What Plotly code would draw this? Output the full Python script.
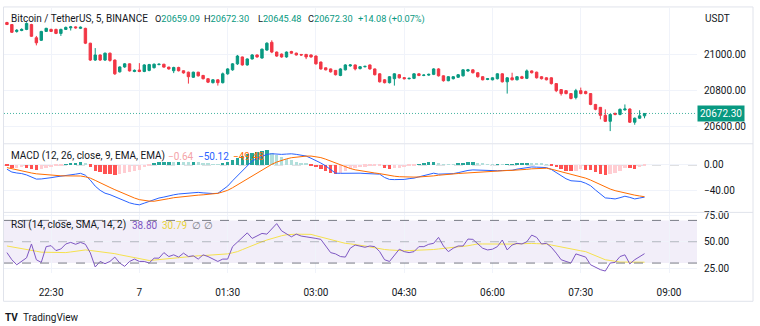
import plotly.graph_objects as go
import pandas as pd

# ---------------- data ----------------
start_time = "2022-07-06 21:45"
bar_minutes = 5

open_ = [21174, 21163, 21125, 21130, 21136, 21163, 21090, 21076, 21125, 21136,
         21136, 21114, 21136, 21145, 21150, 21142, 21142, 21060, 20967, 20995,
         20967, 21005, 20967, 20902, 20929, 20946, 20904, 20912, 20904, 20910,
         20925, 20942, 20944, 20928, 20908, 20926, 20908, 20900, 20872, 20900,
         20882, 20864, 20842, 20858, 20842, 20891, 20913, 20946, 20984, 20940,
         20973, 20995, 20978, 21022, 21065, 21011, 21000, 20984, 21014, 21005,
         20998, 20998, 20995, 20989, 20956, 20924, 20918, 20910, 20882, 20913,
         20935, 20940, 20920, 20930, 20940, 20918, 20891, 20858, 20842, 20864,
         20886, 20870, 20864, 20866, 20891, 20882, 20884, 20888, 20918, 20880,
         20853, 20864, 20872, 20880, 20907, 20913, 20897, 20875, 20860, 20858,
         20864, 20891, 20847, 20869, 20858, 20875, 20866, 20907, 20900, 20875,
         20869, 20869, 20837, 20804, 20798, 20782, 20760, 20798, 20793, 20782,
         20722, 20706, 20662, 20629, 20673, 20667, 20692, 20697, 20624, 20646,
         20659.09]
high = [21178, 21165, 21138, 21142, 21175, 21167, 21100, 21128, 21145, 21140,
        21140, 21140, 21152, 21155, 21153, 21152, 21145, 21062, 21033, 20998,
        21008, 21008, 20970, 20932, 20950, 20948, 20915, 20950, 20944, 20946,
        20948, 20948, 20946, 20930, 20930, 20930, 20910, 20903, 20903, 20902,
        20885, 20866, 20862, 20860, 20898, 20922, 20950, 20995, 20986, 20976,
        21000, 20998, 21030, 21065, 21076, 21014, 21003, 21014, 21018, 21008,
        21000, 21001, 20998, 20992, 20958, 20926, 20920, 20912, 20922, 20944,
        20944, 20942, 20934, 20936, 20942, 20920, 20894, 20862, 20878, 20894,
        20890, 20873, 20870, 20894, 20894, 20888, 20892, 20922, 20922, 20882,
        20878, 20878, 20890, 20916, 20918, 20916, 20900, 20878, 20868, 20872,
        20894, 20894, 20872, 20897, 20878, 20880, 20915, 20910, 20903, 20878,
        20872, 20872, 20840, 20806, 20800, 20785, 20808, 20815, 20798, 20785,
        20725, 20708, 20695, 20670, 20676, 20700, 20722, 20700, 20650, 20690,
        20672.30]
low = [21160, 21117, 21118, 21126, 21132, 21095, 21048, 21072, 21122, 21122,
       21110, 21100, 21133, 21130, 21140, 21138, 21055, 20962, 20962, 20962,
       20962, 20958, 20885, 20898, 20924, 20904, 20900, 20900, 20900, 20905,
       20920, 20938, 20925, 20914, 20895, 20904, 20892, 20837, 20868, 20876,
       20860, 20840, 20838, 20826, 20838, 20886, 20908, 20940, 20936, 20936,
       20970, 20980, 20975, 21018, 21005, 20985, 20980, 20980, 21002, 20992,
       20990, 20972, 20980, 20942, 20914, 20910, 20898, 20882, 20878, 20910,
       20930, 20910, 20915, 20926, 20914, 20882, 20843, 20838, 20838, 20826,
       20865, 20860, 20860, 20862, 20878, 20878, 20880, 20884, 20876, 20848,
       20850, 20860, 20868, 20876, 20902, 20893, 20870, 20855, 20856, 20855,
       20860, 20843, 20782, 20855, 20855, 20862, 20862, 20893, 20865, 20860,
       20855, 20832, 20790, 20771, 20778, 20750, 20750, 20778, 20778, 20718,
       20690, 20640, 20625, 20575, 20662, 20662, 20688, 20620, 20610, 20642,
       20645.48]
close = [21163, 21120, 21131, 21136, 21169, 21098, 21062, 21125, 21142, 21125,
         21114, 21136, 21147, 21150, 21145, 21148, 21060, 20967, 20995, 20967,
         21005, 20965, 20891, 20929, 20946, 20907, 20910, 20904, 20940, 20942,
         20944, 20944, 20928, 20918, 20926, 20908, 20896, 20875, 20900, 20880,
         20864, 20845, 20858, 20842, 20891, 20918, 20946, 20989, 20940, 20973,
         20995, 20984, 21027, 21060, 21011, 20989, 20984, 21011, 21005, 20995,
         20995, 20984, 20984, 20946, 20918, 20913, 20902, 20886, 20918, 20940,
         20940, 20918, 20930, 20932, 20918, 20886, 20847, 20842, 20875, 20891,
         20869, 20864, 20866, 20891, 20882, 20884, 20888, 20918, 20880, 20853,
         20875, 20875, 20886, 20913, 20913, 20897, 20875, 20858, 20864, 20869,
         20891, 20847, 20869, 20858, 20875, 20866, 20907, 20897, 20869, 20864,
         20858, 20837, 20798, 20782, 20782, 20755, 20798, 20782, 20782, 20722,
         20695, 20662, 20629, 20667, 20667, 20695, 20697, 20624, 20646, 20659,
         20672.30]

macd = [-6.6, -11.0, -12.5, -13.4, -15.5, -18.5, -22.0, -21.8, -21.1, -19.8,
        -18.5, -17.6, -16.9, -15.6, -14.3, -13.0, -16.0, -23.6, -33.0, -39.5,
        -44.0, -46.2, -49.5, -53.0, -56.8, -59.0, -61.0, -62.1, -59.5, -56.5,
        -54.0, -51.5, -50.0, -48.0, -46.5, -45.2, -44.5, -43.8, -43.0, -42.7,
        -43.5, -44.2, -44.5, -44.2, -38.0, -33.0, -24.6, -17.0, -9.2, -1.5,
        6.2, 10.0, 13.5, 16.5, 17.5, 16.8, 16.5, 17.0, 17.4, 16.5,
        15.5, 13.9, 10.5, 7.2, 3.0, -1.5, -7.5, -12.8, -13.0, -12.8,
        -12.5, -12.6, -12.8, -13.3, -14.0, -14.3, -14.3, -19.5, -22.5, -22.8,
        -23.1, -22.5, -21.3, -20.5, -18.5, -16.5, -14.5, -12.8, -14.3, -14.0,
        -13.8, -13.5, -12.0, -10.0, -8.5, -7.7, -8.0, -8.5, -9.0, -9.2,
        -9.0, -8.7, -8.4, -8.2, -6.5, -5.0, -3.5, -3.1, -3.4, -3.8,
        -4.1, -7.0, -11.8, -16.5, -21.5, -24.6, -25.5, -25.7, -28.5, -32.3,
        -39.0, -45.2, -51.3, -52.0, -52.9, -51.0, -48.7, -50.5, -52.9, -51.5,
        -50.12]
signal = [-4.1, -6.0, -8.0, -9.5, -11.0, -12.5, -13.8, -14.6, -15.3, -15.9,
          -16.5, -16.9, -17.0, -17.0, -16.9, -17.2, -18.5, -20.5, -24.0, -28.0,
          -31.5, -35.0, -38.5, -42.0, -45.5, -48.5, -51.5, -54.0, -55.5, -56.3,
          -56.5, -55.5, -54.2, -52.5, -51.0, -50.0, -49.2, -48.4, -47.7, -47.0,
          -46.5, -46.0, -45.2, -44.2, -42.0, -39.5, -35.5, -31.0, -26.5, -21.5,
          -16.5, -11.8, -7.5, -3.0, 1.0, 4.5, 7.5, 9.5, 11.3, 12.3,
          13.2, 13.8, 13.9, 13.0, 11.5, 9.0, 6.0, 3.0, 0.0, -3.0,
          -5.5, -7.5, -9.0, -10.5, -11.8, -12.5, -13.5, -15.0, -16.5, -17.5,
          -18.3, -18.8, -19.0, -18.9, -18.7, -18.5, -18.0, -17.0, -16.0, -15.0,
          -14.5, -14.0, -13.3, -12.8, -12.0, -11.3, -10.6, -10.0, -9.5, -9.2,
          -9.0, -8.8, -8.6, -8.4, -8.2, -7.5, -6.8, -6.0, -5.5, -5.2,
          -5.1, -6.5, -8.5, -10.3, -12.5, -14.5, -16.5, -18.5, -20.5, -23.5,
          -27.0, -31.0, -35.0, -37.5, -40.0, -42.0, -44.0, -45.5, -47.0, -48.3,
          -49.48]
hist = [-2.5, -5.0, -4.5, -3.9, -4.5, -6.0, -8.2, -7.2, -5.8, -3.9,
        -2.0, -0.7, 0.3, 1.4, 2.6, 4.2, 2.5, -3.1, -9.0, -12.0,
        -14.0, -15.0, -16.0, -15.0, -13.0, -11.0, -9.5, -8.1, -4.0, -0.5,
        2.5, 4.0, 4.2, 4.5, 4.5, 4.8, 4.7, 4.6, 4.7, 4.3,
        3.0, 1.8, 0.7, 0.3, 3.0, 5.0, 8.0, 11.0, 13.5, 16.0,
        18.0, 19.5, 21.0, 22.5, 19.0, 15.0, 11.5, 9.0, 7.0, 5.0,
        3.0, 1.5, -1.0, -4.0, -7.0, -10.0, -12.5, -14.5, -13.0, -9.8,
        -7.0, -5.1, -3.8, -2.8, -2.2, -1.8, -0.8, -4.5, -6.0, -5.3,
        -4.8, -3.7, -2.3, -1.6, 0.2, 2.0, 3.5, 4.2, 1.7, 1.0,
        0.7, 0.5, 1.3, 2.8, 3.5, 3.6, 2.6, 1.5, 0.5, 0.2,
        0.3, 0.1, 0.2, 0.4, 1.7, 2.5, 3.3, 2.9, 2.1, 1.4,
        1.0, -0.5, -3.3, -6.2, -9.0, -10.1, -9.0, -7.2, -8.0, -8.8,
        -12.0, -14.2, -16.3, -14.5, -12.9, -9.0, -4.7, -5.0, -5.9, -3.2,
        -0.64]

rsi = [39.8, 33.1, 28.4, 31.5, 34.9, 47.9, 33.1, 30.6, 45.4, 46.3,
       41.7, 43.2, 47.9, 49.4, 47.6, 49.4, 47.6, 39.5, 26.3, 31.5,
       29.4, 31.5, 35.6, 30.0, 26.9, 31.5, 33.7, 31.5, 31.5, 30.0,
       34.6, 34.6, 39.8, 36.1, 37.7, 35.6, 39.3, 36.1, 36.8, 33.7,
       37.7, 36.1, 33.7, 31.5, 33.7, 33.7, 45.4, 50.0, 54.6, 58.3,
       53.1, 55.3, 57.8, 57.1, 62.4, 67.0, 60.2, 57.1, 54.6, 57.1,
       55.3, 54.6, 54.1, 53.1, 52.2, 46.0, 39.8, 38.6, 36.1, 35.6,
       43.9, 46.9, 46.0, 44.8, 46.0, 45.4, 40.7, 33.1,
       31.5, 37.7, 43.0, 40.7, 39.8, 40.7, 45.4, 45.4, 47.6, 48.5,
       54.1, 46.0, 40.7, 43.9, 46.0, 46.0, 52.5, 52.2, 48.5, 43.9,
       42.3, 43.0, 45.4, 51.6, 42.3, 46.9, 48.5, 47.9, 50.0, 56.2,
       54.1, 47.9, 48.5, 44.8, 39.3, 33.1, 31.5, 30.0, 38.6, 36.8,
       35.6, 28.4, 26.3, 23.8, 22.5, 30.0, 30.6, 36.1, 37.7, 29.2,
       33.1, 36.1, 38.8]
rsi_ma = [46.0, 45.3, 44.6, 43.8, 43.0, 42.1, 41.1, 40.2, 40.1, 40.0,
          39.9, 39.9, 39.8, 40.4, 41.0, 41.7, 42.3, 41.8, 41.3, 40.8,
          40.3, 39.8, 38.8, 37.8, 36.8, 35.8, 34.7, 33.7, 33.0, 32.4,
          32.8, 33.3, 33.7, 34.2, 34.6, 35.0, 35.5, 35.9, 36.4, 36.8,
          37.0, 37.2, 37.4, 37.6, 37.7, 38.6, 39.6, 40.7, 42.6, 44.6,
          46.6, 48.5, 50.0, 51.6, 53.1, 54.6, 55.6, 56.5, 57.1, 57.1,
          57.0, 57.0, 56.9, 55.6, 54.4, 53.1, 51.8, 50.5, 49.1, 48.5,
          48.0, 47.5, 46.9, 46.0, 45.1, 44.1, 43.2, 42.7, 42.3, 41.8,
          41.4, 41.5, 41.7, 41.8, 42.0, 42.1, 42.3, 42.7, 43.2, 43.6,
          44.1, 44.5, 44.9, 45.4, 46.2, 47.1, 47.9, 47.9, 47.8, 47.8,
          47.7, 47.7, 47.6, 47.8, 48.0, 48.3, 48.5, 48.4, 48.2, 48.1,
          47.9, 46.9, 45.9, 44.9, 43.9, 43.1, 42.3, 41.5, 40.7, 38.8,
          36.9, 35.0, 33.1, 32.4, 31.6, 30.9, 30.9, 30.9, 30.8, 30.8,
          30.79]

time_tickvals = ["2022-07-06 22:30", "2022-07-07 00:00", "2022-07-07 01:30",
                 "2022-07-07 03:00", "2022-07-07 04:30", "2022-07-07 06:00",
                 "2022-07-07 07:30", "2022-07-07 09:00"]
time_ticktext = ["22:30", "7", "01:30", "03:00", "04:30", "06:00", "07:30", "09:00"]
x_range = ["2022-07-06 21:42:00", "2022-07-07 09:28:30"]

price_ticks = [20600, 20800, 21000]
macd_ticks = [0, -40]
rsi_ticks = [25, 50, 75]

# ---------------- styling ----------------
W, H = 760, 326
UP, DN = "#089981", "#F23645"
GRID = "#f0f3fa"
TXT = "#131722"
FONT = "Roboto"
MACD_C, SIG_C = "#2962FF", "#FF6D00"
RSI_C, RSI_MA_C = "#7E57C2", "#F5E14D"


def fx(px):
    return px / W


def fy(py):
    return 1 - py / H


X0, X1 = 4, 697
times = pd.date_range(start_time, periods=len(close), freq=f"{bar_minutes}min")

hist_colors = []
for i, h in enumerate(hist):
    p = hist[i - 1] if i > 0 else h
    if h >= 0:
        hist_colors.append("#26A69A" if h > p else "#B2DFDB")
    else:
        hist_colors.append("#FFCDD2" if h > p else "#FF5252")

fig = go.Figure()
fig.add_trace(go.Candlestick(
    x=times, open=open_, high=high, low=low, close=close,
    increasing=dict(line=dict(color=UP, width=1), fillcolor=UP),
    decreasing=dict(line=dict(color=DN, width=1), fillcolor=DN),
    whiskerwidth=0, xaxis="x", yaxis="y", showlegend=False, hoverinfo="skip"))

fig.add_trace(go.Bar(x=times, y=hist, marker=dict(color=hist_colors, line=dict(width=0)),
                     width=bar_minutes * 60 * 1000 * 0.7, xaxis="x2", yaxis="y2",
                     showlegend=False, hoverinfo="skip"))
fig.add_trace(go.Scatter(x=times, y=macd, mode="lines", line=dict(color=MACD_C, width=1),
                         xaxis="x2", yaxis="y2", showlegend=False, hoverinfo="skip"))
fig.add_trace(go.Scatter(x=times, y=signal, mode="lines", line=dict(color=SIG_C, width=1),
                         xaxis="x2", yaxis="y2", showlegend=False, hoverinfo="skip"))

fig.add_trace(go.Scatter(x=times, y=rsi_ma, mode="lines", line=dict(color=RSI_MA_C, width=1),
                         xaxis="x3", yaxis="y3", showlegend=False, hoverinfo="skip"))
fig.add_trace(go.Scatter(x=times, y=rsi, mode="lines", line=dict(color=RSI_C, width=1),
                         xaxis="x3", yaxis="y3", showlegend=False, hoverinfo="skip"))

xcommon = dict(type="date", range=x_range, domain=[fx(X0), fx(X1)], showgrid=True,
               gridcolor=GRID, gridwidth=1, tickvals=time_tickvals, ticktext=time_ticktext,
               zeroline=False, showline=False, ticks="", fixedrange=True)
ycommon = dict(side="right", showgrid=True, gridcolor=GRID, zeroline=False, showline=False,
               ticks="", tickfont=dict(family=FONT, size=10, color=TXT), ticklabelstandoff=6,
               fixedrange=True)

fig.update_layout(
    width=W, height=H, margin=dict(l=0, r=0, t=0, b=0),
    paper_bgcolor="white", plot_bgcolor="white", bargap=0,
    xaxis=dict(xcommon, anchor="y", showticklabels=False, rangeslider=dict(visible=False)),
    xaxis2=dict(xcommon, anchor="y2", showticklabels=False),
    xaxis3=dict(xcommon, anchor="y3", showticklabels=True, ticklabelstandoff=12,
                tickfont=dict(family=FONT, size=10, color=TXT)),
    yaxis=dict(ycommon, anchor="x", domain=[fy(142), fy(5)], range=[20507.9, 21254.5],
               tickvals=price_ticks, ticktext=[f"{v:.2f}" for v in price_ticks]),
    yaxis2=dict(ycommon, anchor="x2", domain=[fy(212), fy(143)], range=[-73.9, 32.3],
                tickvals=macd_ticks,
                ticktext=[f"{v:.2f}".replace("-", "\u2212") for v in macd_ticks]),
    yaxis3=dict(ycommon, anchor="x3", domain=[fy(273), fy(212)], range=[21.0, 77.5],
                tickvals=rsi_ticks, ticktext=[f"{v:.2f}" for v in rsi_ticks]),
)

# RSI band and levels
fig.add_shape(type="rect", xref="x3 domain", yref="y3", x0=0, x1=1, y0=30, y1=70,
              fillcolor="rgba(126,87,194,0.1)", line=dict(width=0), layer="below")
for lvl, col in [(70, "#787B86"), (50, "rgba(120,123,134,0.5)"), (30, "#787B86")]:
    fig.add_shape(type="line", xref="x3 domain", yref="y3", x0=0, x1=1, y0=lvl, y1=lvl,
                  line=dict(color=col, width=1, dash="dash"))
# MACD zero line
fig.add_shape(type="line", xref="x2 domain", yref="y2", x0=0, x1=1, y0=0, y1=0,
              line=dict(color="rgba(120,123,134,0.5)", width=1, dash="dash"), layer="below")
# last price line
fig.add_shape(type="line", xref="x domain", yref="y", x0=0, x1=1, y0=close[-1], y1=close[-1],
              line=dict(color="rgba(8,153,129,0.75)", width=1, dash="1px,2px"))

# pane separators and frame
for py in [142.5, 212]:
    fig.add_shape(type="line", xref="paper", yref="paper", x0=fx(4), x1=fx(753),
                  y0=fy(py), y1=fy(py), line=dict(color="#e0e3eb", width=1))
fig.add_shape(type="rect", xref="paper", yref="paper", x0=fx(3.5), x1=fx(753),
              y0=fy(302), y1=fy(4), line=dict(color="#e0e3eb", width=1))


def note(px, py, text, color=TXT, size=10, **kw):
    fig.add_annotation(x=fx(px), y=fy(py), xref="paper", yref="paper", text=text,
                       showarrow=False, xanchor="left", yanchor="middle",
                       font=dict(family=FONT, size=size, color=color), **kw)


def teal(s):
    return f"<span style='color:{UP}'>{s}</span>"


note(9, 16, "Bitcoin / TetherUS, 5, BINANCE")
note(153, 16, "O" + teal(f"{open_[-1]:.2f}"), size=9.2)
note(202, 16, "H" + teal(f"{high[-1]:.2f}"), size=9.2)
note(256, 16, "L" + teal(f"{low[-1]:.2f}"), size=9.2)
note(306, 16, "C" + teal(f"{close[-1]:.2f}"), size=9.2)
note(356, 16, teal("+14.08 (+0.07%)"), size=9.2)
note(703, 16, "USDT")

note(9, 155, "MACD (12, 26, close, 9, EMA, EMA)")
note(166, 155, f"{hist[-1]:.2f}".replace("-", "\u2212"), color="#f4a3a8")
note(196, 155, f"{macd[-1]:.2f}".replace("-", "\u2212"), color=MACD_C)
note(231, 155, f"{signal[-1]:.2f}".replace("-", "\u2212"), color=SIG_C)

note(9, 225, "RSI (14, close, SMA, 14, 2)")
note(130, 225, f"{rsi[-1]:.2f}", color=RSI_C)
note(160, 225, f"{rsi_ma[-1]:.2f}", color="#e8d23a")
note(190, 225, "\u2205", color="#787B86")
note(202, 225, "\u2205", color="#787B86")

# last price label
fig.add_annotation(x=fx(X1), y=close[-1], xref="paper", yref="y", text=f"{close[-1]:.2f}",
                   showarrow=False, xanchor="left", yanchor="middle", bgcolor=UP,
                   borderpad=2, font=dict(family=FONT, size=10, color="white"))

# TradingView footer
note(3, 318, "<b>TV</b>", size=10)
note(21, 318, "TradingView", size=10)

fig.write_html("out.html")
